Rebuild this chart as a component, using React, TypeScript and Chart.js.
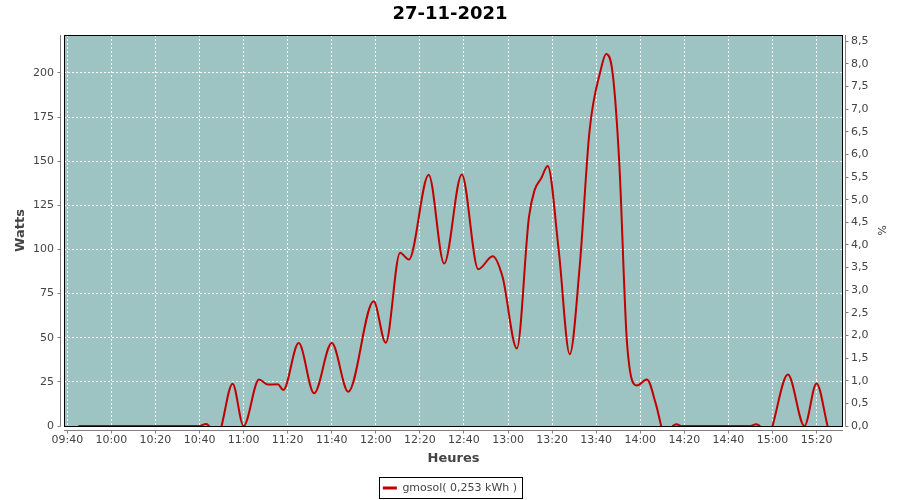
import React, { useEffect, useRef } from "react";
import { Chart, registerables } from "chart.js";

Chart.register(...registerables);

const chartTitle = "27-11-2021";
const xAxisTitle = "Heures";
const leftAxisTitle = "Watts";
const rightAxisTitle = "%";
const seriesLabel = "gmosol( 0,253 kWh )";

const xRange = ["09:38:30", "15:32:00"];
const wattsRange = [0, 221.5];
const percentRange = [0, 8.64];
const xTickStepMinutes = 20;
const wattsTickStep = 25;
const percentTickStep = 0.5;

// sample times and power readings (null = hidden / below-zero part of the curve)
const times = [
  "09:45:00", "10:40:00", "10:43:00", "10:44:30", "10:47:00",
  "10:50:00", "10:55:00", "11:00:00", "11:07:00", "11:11:00", "11:15:30", "11:18:00",
  "11:25:00", "11:32:00", "11:40:00", "11:47:30", "11:59:00", "12:04:30", "12:11:00",
  "12:15:00", "12:24:00", "12:31:00", "12:39:00", "12:46:30", "12:53:00", "12:57:30",
  "13:04:00", "13:09:30", "13:12:00", "13:15:00", "13:18:00", "13:23:00", "13:28:00",
  "13:32:30", "13:37:00", "13:42:00", "13:44:30", "13:47:30", "13:50:30", "13:54:00",
  "13:58:30", "14:03:00", "14:07:00", "14:09:30", "14:12:00",
  "14:14:30", "14:16:30", "14:18:30", "14:50:00", "14:52:30", "14:54:30", "14:57:00",
  "15:00:00", "15:07:00", "15:14:30", "15:20:00", "15:25:00",
];
const watts = [
  0, 0, 1.2, 0, null,
  0, 24, 0, 26.4, 23.5, 23.6, 20.4,
  47, 18.5, 47, 19.4, 70.7, 47.1, 98.2,
  94.3, 142.4, 92, 142.5, 88.8, 96.2, 84.5,
  43.9, 118.4, 133.5, 140.2, 147.3, 99.5, 40.7,
  90.1, 167.4, 201.4, 210.8, 199.5, 148.6, 46.9,
  23, 26.4, 12.8, 0, null,
  0, 1.0, 0, 0, 1.0, 0, null,
  0, 29.2, 0, 24.1, 0,
];

const FONT = "'DejaVu Sans', sans-serif";
const LINE_COLOR = "#C00000";
const PLOT_BG = "#9EC3C3";
const AXIS_GRAY = "#808080";
const TEXT_GRAY = "#444444";

const toMinutes = (s: string) => {
  const [h, m, sec] = s.split(":").map(Number);
  return h * 60 + m + (sec || 0) / 60;
};
const pad = (n: number) => String(n).padStart(2, "0");
const fmtTime = (v: number) => {
  const r = Math.round(v);
  return `${pad(Math.floor(r / 60))}:${pad(r % 60)}`;
};

const align = (p: number) => Math.round(p - 0.5) + 0.5;

const framePlugin = {
  id: "frame",
  beforeDraw(chart: any) {
    const { ctx, chartArea: a } = chart;
    ctx.save();
    ctx.fillStyle = "#ffffff";
    ctx.fillRect(0, 0, chart.width, chart.height);
    ctx.fillStyle = PLOT_BG;
    ctx.fillRect(a.left, a.top, a.right - a.left, a.bottom - a.top);
    ctx.restore();
  },
  afterDatasetsDraw(chart: any) {
    const { ctx, chartArea: a, scales } = chart;
    ctx.save();
    // plot border
    ctx.strokeStyle = "#000";
    ctx.lineWidth = 1;
    const l = Math.round(a.left) + 0.5;
    const t = Math.round(a.top) + 0.5;
    const r = Math.round(a.right) - 0.5;
    const b = Math.round(a.bottom) + 0.5;
    ctx.strokeRect(l, t, r - l, b - t);

    // axis lines, offset from the plot
    ctx.strokeStyle = AXIS_GRAY;
    ctx.beginPath();
    const lx = Math.round(a.left) - 3.5;
    ctx.moveTo(lx, a.top);
    ctx.lineTo(lx, b);
    const rx = Math.round(a.right) + 2.5;
    ctx.moveTo(rx, a.top);
    ctx.lineTo(rx, b);
    const by = Math.round(a.bottom) + 4.5;
    ctx.moveTo(a.left, by);
    ctx.lineTo(a.right, by);
    // tick marks
    scales.y.ticks.forEach((tk: any) => {
      const y = align(scales.y.getPixelForValue(tk.value));
      ctx.moveTo(lx - 3, y);
      ctx.lineTo(lx, y);
    });
    scales.y2.ticks.forEach((tk: any) => {
      const y = align(scales.y2.getPixelForValue(tk.value));
      ctx.moveTo(rx, y);
      ctx.lineTo(rx + 3, y);
    });
    scales.x.ticks.forEach((tk: any) => {
      const x = align(scales.x.getPixelForValue(tk.value));
      ctx.moveTo(x, by);
      ctx.lineTo(x, by + 3);
    });
    ctx.stroke();
    ctx.restore();
  },
  afterDraw(chart: any) {
    const hb = chart.legend && chart.legend.legendHitBoxes && chart.legend.legendHitBoxes[0];
    if (!hb) return;
    const { ctx } = chart;
    ctx.save();
    ctx.strokeStyle = "#000";
    ctx.lineWidth = 1;
    const x = Math.round(hb.left - 4) + 0.5;
    const y = Math.round(hb.top - 5.5) + 0.5;
    const w = Math.round(hb.width + 9);
    const h = Math.round(hb.height + 10);
    ctx.strokeRect(x, y, w, h);
    ctx.restore();
  },
};

export default function App() {
  const ref = useRef<HTMLCanvasElement>(null);

  useEffect(() => {
    const points = times.map((t, i) => ({ x: toMinutes(t), y: watts[i] }));
    const chart = new Chart(ref.current as HTMLCanvasElement, {
      type: "line",
      data: {
        datasets: [
          {
            label: seriesLabel,
            data: points as any,
            borderColor: LINE_COLOR,
            backgroundColor: LINE_COLOR,
            borderWidth: 2,
            pointRadius: 0,
            fill: false,
            tension: 0.4,
            cubicInterpolationMode: "monotone",
            spanGaps: false,
            clip: 0,
            yAxisID: "y",
          } as any,
        ],
      },
      options: {
        animation: false,
        responsive: false,
        devicePixelRatio: 1,
        layout: { padding: { left: 0, right: 0, top: 0, bottom: -3.5 } },
        events: [],
        plugins: {
          title: {
            display: true,
            text: chartTitle,
            color: "#000",
            font: { family: FONT, size: 18, weight: "bold" },
            padding: { top: 3.7, bottom: 9.7 },
          },
          legend: {
            display: true,
            position: "bottom",
            labels: {
              font: { family: FONT, size: 11 },
              color: TEXT_GRAY,
              boxWidth: 14,
              boxHeight: 3,
              padding: 10,
              generateLabels: () => [
                {
                  text: seriesLabel,
                  fillStyle: LINE_COLOR,
                  strokeStyle: LINE_COLOR,
                  lineWidth: 0,
                  hidden: false,
                  datasetIndex: 0,
                  fontColor: TEXT_GRAY,
                } as any,
              ],
            },
          },
          tooltip: { enabled: false },
        },
        scales: {
          x: {
            type: "linear",
            position: "bottom",
            min: toMinutes(xRange[0]),
            max: toMinutes(xRange[1]),
            afterFit: (s: any) => {
              s.height = 46.5;
            },
            grid: { color: "#ffffff", lineWidth: 1, drawTicks: false },
            border: { display: false, dash: [2, 2] },
            ticks: {
              stepSize: xTickStepMinutes,
              includeBounds: false,
              autoSkip: false,
              maxRotation: 0,
              minRotation: 0,
              padding: 8,
              color: TEXT_GRAY,
              font: { family: FONT, size: 11 },
              callback: (v: any) => fmtTime(Number(v)),
            },
            title: {
              display: true,
              text: xAxisTitle,
              color: TEXT_GRAY,
              font: { family: FONT, size: 13, weight: "bold" },
              padding: { top: 0, bottom: 5.7 },
            },
          },
          y: {
            type: "linear",
            position: "left",
            min: wattsRange[0],
            max: wattsRange[1],
            afterFit: (s: any) => {
              s.width = 64;
            },
            grid: { color: "#ffffff", lineWidth: 1, drawTicks: false },
            border: { display: false, dash: [2, 2] },
            ticks: {
              stepSize: wattsTickStep,
              includeBounds: false,
              padding: 10,
              color: TEXT_GRAY,
              font: { family: FONT, size: 11 },
              callback: (v: any) => String(v),
            },
            title: {
              display: true,
              text: leftAxisTitle,
              color: TEXT_GRAY,
              font: { family: FONT, size: 13, weight: "bold" },
              padding: { top: 12.7, bottom: 0 },
            },
          },
          y2: {
            type: "linear",
            position: "right",
            min: percentRange[0],
            max: percentRange[1],
            afterFit: (s: any) => {
              s.width = 57;
            },
            grid: { display: false, drawTicks: false },
            border: { display: false },
            ticks: {
              stepSize: percentTickStep,
              includeBounds: false,
              padding: 8,
              color: TEXT_GRAY,
              font: { family: FONT, size: 11 },
              callback: (v: any) => Number(v).toFixed(1).replace(".", ","),
            },
            title: {
              display: true,
              text: rightAxisTitle,
              color: TEXT_GRAY,
              font: { family: FONT, size: 11 },
              padding: { top: 12.7, bottom: 0 },
            },
          },
        },
      } as any,
      plugins: [framePlugin],
    });
    return () => chart.destroy();
  }, []);

  return (
    <div style={{ position: "fixed", left: 0, top: 0, width: 900, height: 500, background: "#fff" }}>
      <canvas ref={ref} width={900} height={500} style={{ display: "block" }} />
    </div>
  );
}
